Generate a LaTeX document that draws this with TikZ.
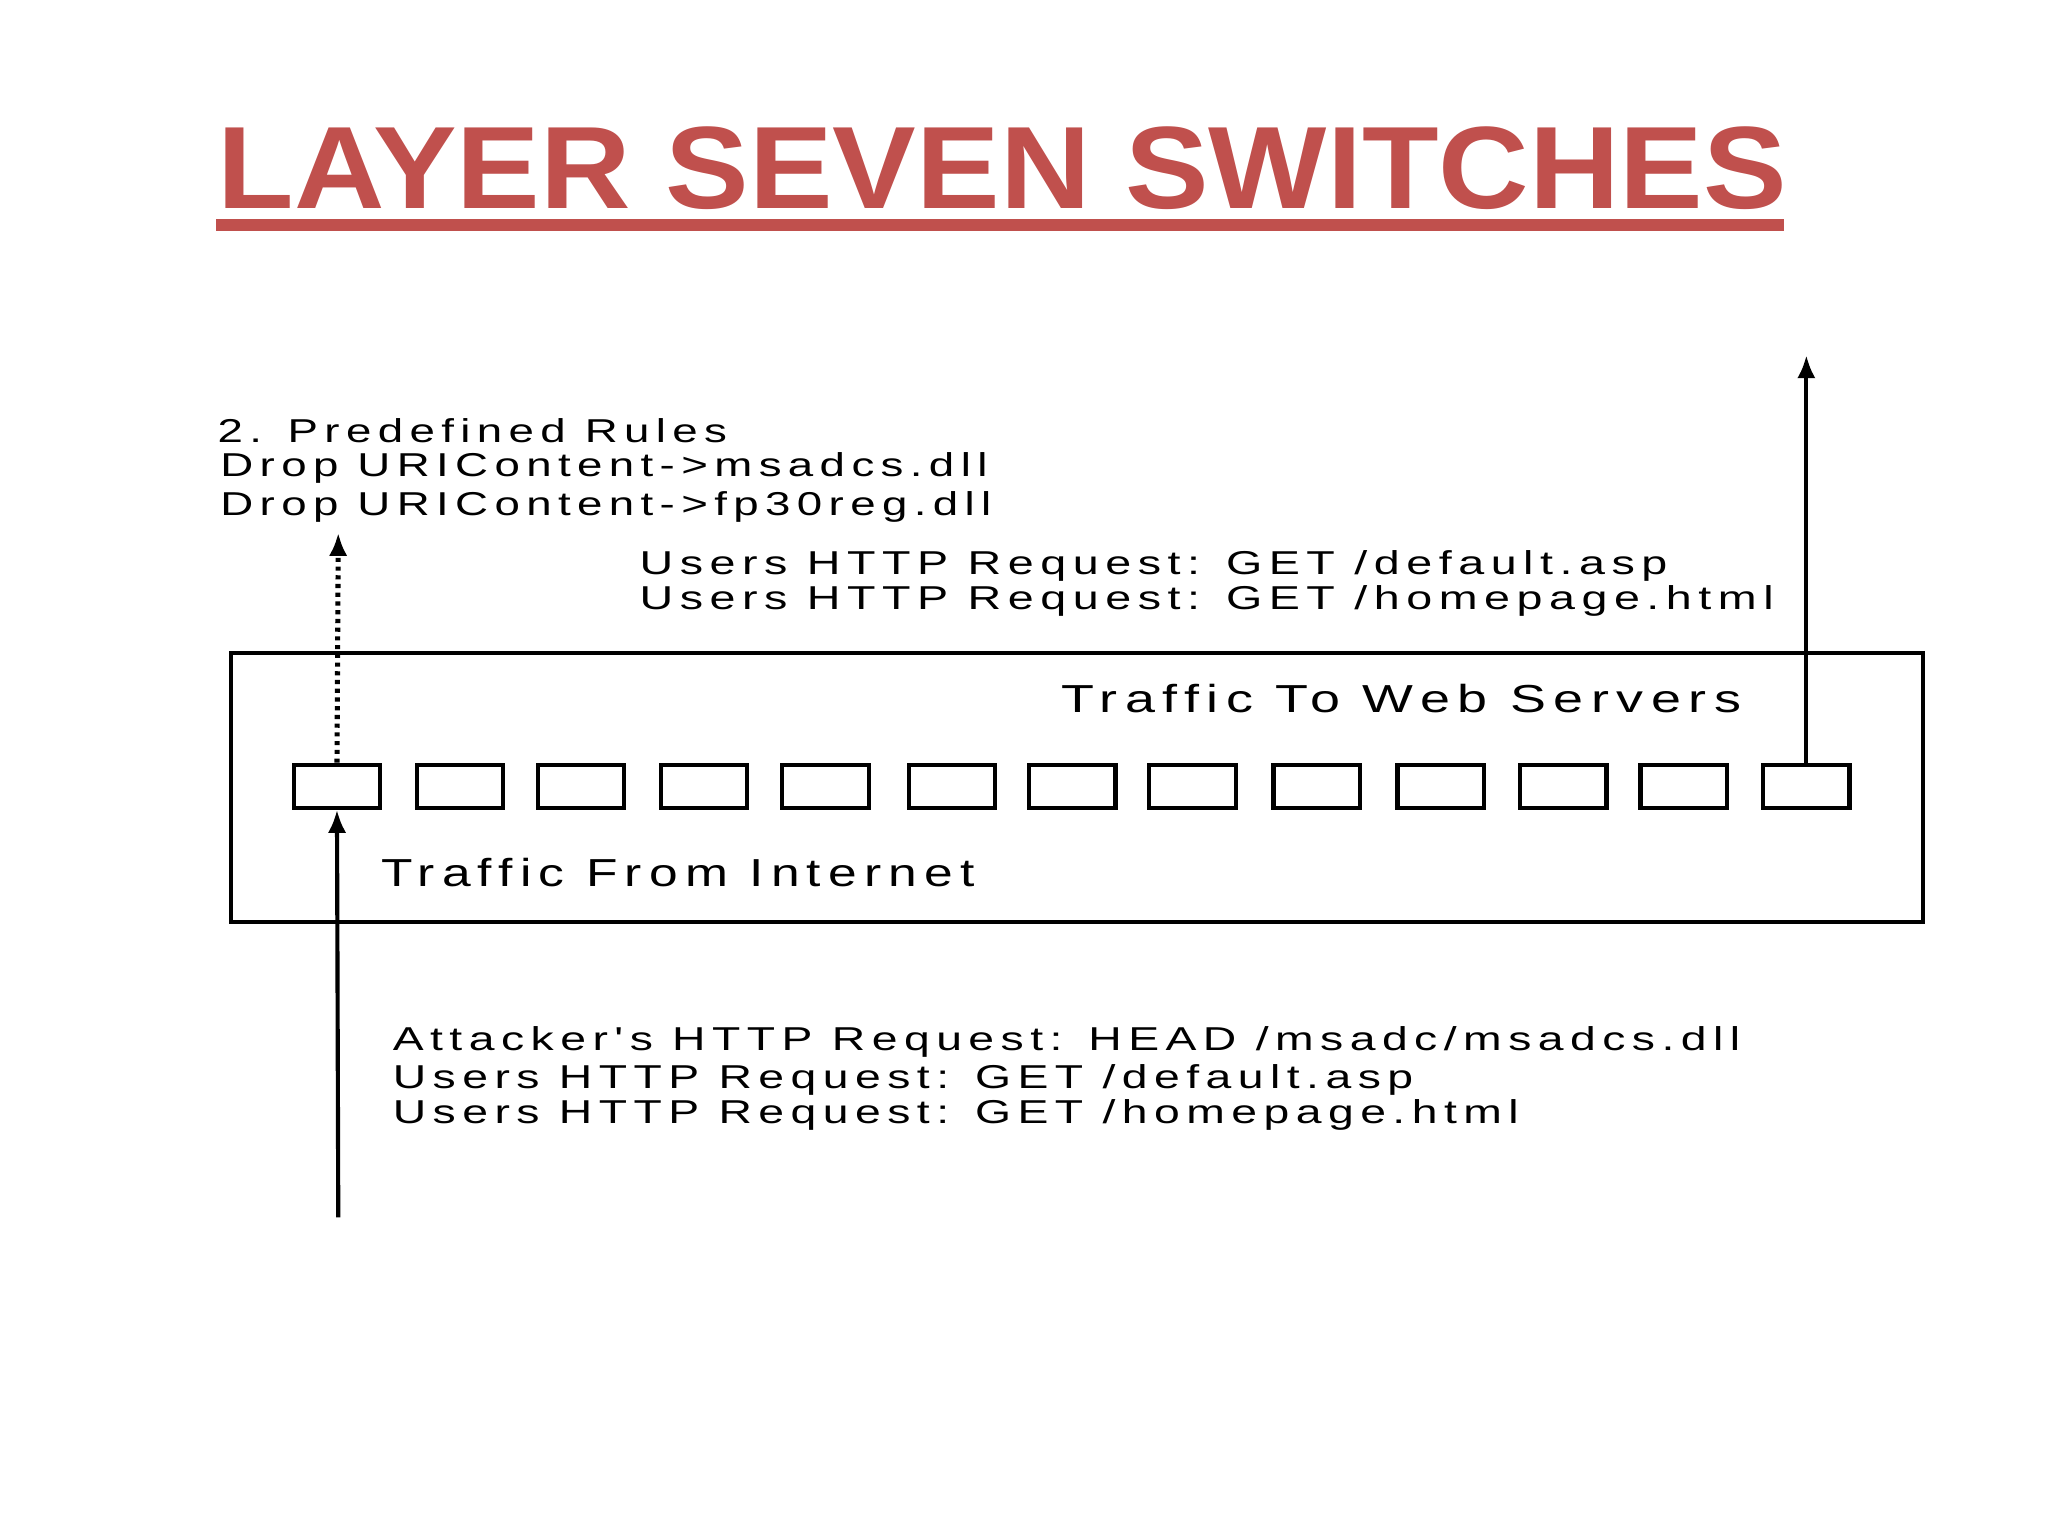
\documentclass[tikz,border=0pt]{standalone}
\usepackage{fontspec}
\usetikzlibrary{arrows.meta}
\setmainfont{Liberation Sans}
\newfontfamily\diag[LetterSpace=14]{Liberation Sans}
\definecolor{ttl}{RGB}{192,80,77}
\newcommand{\wide}[1]{\scalebox{1.38}[1]{#1}}
\begin{document}
\begin{tikzpicture}[x=0.01cm,y=-0.01cm,
  port/.style={draw,line width=0.9pt,minimum width=0.66cm,minimum height=0.33cm,inner sep=0pt},
  lbl/.style={anchor=west,inner sep=0pt,font=\diag\fontsize{7.2pt}{8pt}\selectfont,align=left},
  arr/.style={-{Latex[length=5pt,width=4pt]},line width=0.9pt}]
\useasboundingbox (0,0) rectangle (1568,1176);
\node[anchor=base west,inner sep=0pt,text=ttl,font=\bfseries\fontsize{25.5pt}{28pt}\selectfont] (title) at (166,160) {\scalebox{1.07}[1]{LAYER SEVEN SWITCHES}};
\fill[ttl] (165,168) rectangle (1366,177);
\draw[line width=0.9pt] (177,500) rectangle (1472,706);
\foreach \i/\x in {1/258,2/352,3/445,4/539,5/632,6/729,7/821,8/913,9/1008,10/1103,11/1197,12/1289,13/1383}
  \node[port] (p\i) at (\x,602) {};
\coordinate (topend) at (1383,272);
\coordinate (dotend) at (259,408);
\coordinate (botstart) at (259,932);
\draw[arr] (p13.north) -- (topend);
\draw[arr,densely dotted,line width=1.1pt] (p1.north) -- (dotend);
\draw[arr] (botstart) -- (p1.south);
\node[lbl] (rules) at (166,330) {\wide{2. Predefined Rules}};
\node[lbl] (drop1) at (168,358) {\wide{Drop URIContent->msadcs.dll}};
\node[lbl] (drop2) at (168,388) {\wide{Drop URIContent->fp30reg.dll}};
\node[lbl] (u1) at (489,433) {\scalebox{1.41}[1]{Users HTTP Request: GET /default.asp}};
\node[lbl] (u2) at (489,460) {\scalebox{1.41}[1]{Users HTTP Request: GET /homepage.html}};
\node[lbl,font=\diag\fontsize{8.5pt}{9pt}\selectfont] (tw) at (812,535) {\wide{Traffic To Web Servers}};
\node[lbl,font=\diag\fontsize{8.5pt}{9pt}\selectfont] (tf) at (291,668) {\scalebox{1.32}[1]{Traffic From Internet}};
\node[lbl] (a1) at (300,798) {\scalebox{1.4}[1]{Attacker's HTTP Request: HEAD /msadc/msadcs.dll}};
\node[lbl] (a2) at (300,827) {\scalebox{1.4}[1]{Users HTTP Request: GET /default.asp}};
\node[lbl] (a3) at (300,854) {\scalebox{1.4}[1]{Users HTTP Request: GET /homepage.html}};
\end{tikzpicture}
\end{document}
